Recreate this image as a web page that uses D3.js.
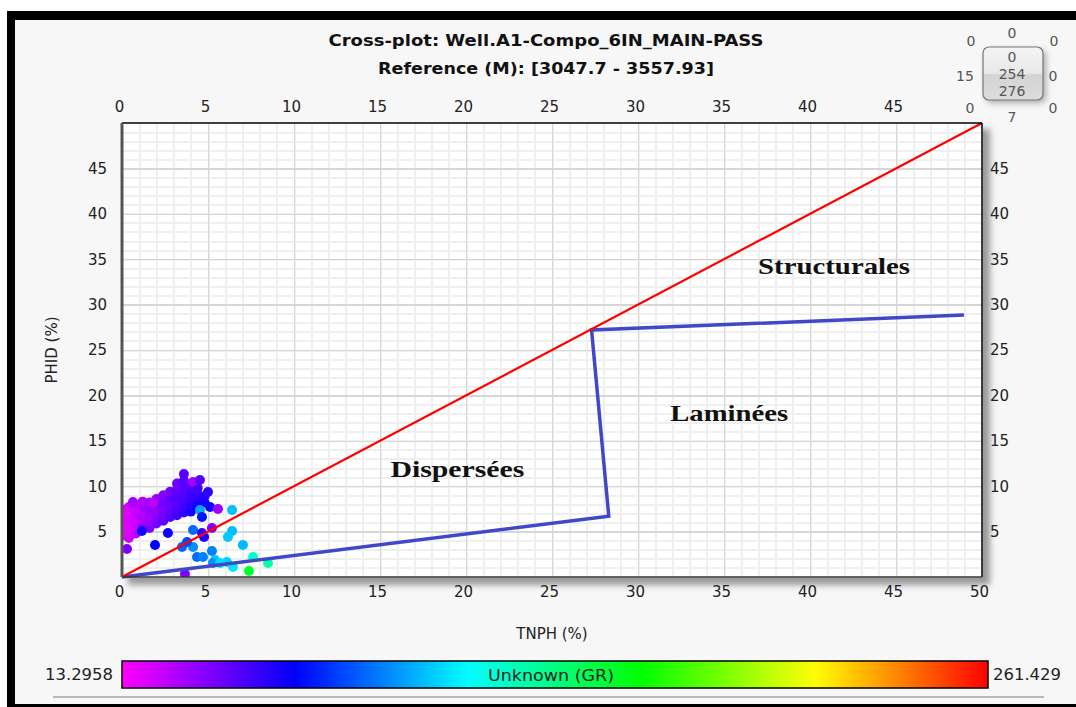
<!DOCTYPE html>
<html>
<head>
<meta charset="utf-8">
<script src="https://cdn.jsdelivr.net/npm/d3@7"></script>
<style>
  body { margin: 0; background: #fff; }
  text { font-family: "DejaVu Sans", Verdana, sans-serif; }
  .tick text { font-size: 15px; fill: #222; }
  .grid line { shape-rendering: crispEdges; }
  .grid path { display: none; }
  text.zone { font-family: "Liberation Serif", "Times New Roman", serif; }
</style>
</head>
<body>
<div id="chart"></div>
<script>
// cross-plot TNPH vs PHID, colour = GR

var titleLines = ["Cross-plot: Well.A1-Compo_6IN_MAIN-PASS", "Reference (M): [3047.7 - 3557.93]"];
var xTicksBottom = [0, 5, 10, 15, 20, 25, 30, 35, 40, 45, 50];
var xTicksTop    = [0, 5, 10, 15, 20, 25, 30, 35, 40, 45];
var yTicks       = [5, 10, 15, 20, 25, 30, 35, 40, 45];
var minorTicks   = d3.range(1, 50);

var grRange  = [13.2958, 261.429];
var grColors = ["#ff00ff", "#0000ff", "#00ffff", "#00ff00", "#ffff00", "#ff0000"];

// limits of the zones
var redLine  = [[0, 0], [50, 50]];
var blueLine = [[0, 0], [28.3, 6.7], [27.3, 27.2], [48.95, 28.85]];
var zoneNames = ["Structurales", "Laminées", "Dispersées"];
var zoneX     = [41.4, 35.3, 19.5];
var zoneY     = [34.3, 18.1, 11.9];

// points
var tnph = [
  0.1, 0.1, 0.1, 0.1, 0.1,
  0.4, 0.4, 0.4, 0.4, 0.4, 0.4,
  0.8, 0.8, 0.8, 0.8, 0.8,
  1.2, 1.2, 1.2, 1.2, 1.2,
  1.6, 1.6, 1.6, 1.6, 1.6,
  2.0, 2.0, 2.0, 2.0, 2.0,
  2.4, 2.4, 2.4, 2.4, 2.4,
  2.8, 2.8, 2.8, 2.8, 2.8,
  3.2, 3.2, 3.2, 3.2, 3.2, 3.2,
  3.6, 3.6, 3.6, 3.6, 3.6, 3.6,
  4.0, 4.0, 4.0, 4.0, 4.0,
  4.4, 4.4, 4.4, 4.4,
  4.8, 4.8,
  3.60, 4.13, 4.53, 5.00, 4.36, 0.64, 1.80, 5.12, 5.58, 6.40,
  4.53, 4.65, 0.29, 1.16, 2.67, 1.92, 0.29, 4.13, 4.65, 5.23,
  6.40, 6.16, 4.77, 7.03, 3.49, 4.13, 3.78, 5.23, 4.36, 4.71,
  5.41, 5.29, 6.10, 6.45, 7.62, 8.49, 7.38, 3.66, 5.70
];
var phid = [
  4.6, 5.3, 6.0, 6.7, 7.4,
  4.3, 5.0, 5.7, 6.4, 7.1, 7.7,
  4.8, 5.5, 6.2, 6.9, 7.6,
  5.6, 6.3, 7.0, 7.7, 8.3,
  5.4, 6.1, 6.8, 7.5, 8.2,
  5.9, 6.6, 7.3, 8.0, 8.6,
  6.2, 6.9, 7.6, 8.3, 9.0,
  6.6, 7.3, 8.0, 8.7, 9.4,
  6.8, 7.5, 8.2, 8.9, 9.6, 10.3,
  7.1, 7.8, 8.5, 9.2, 9.9, 10.6,
  7.2, 7.9, 8.6, 9.3, 10.0,
  7.6, 8.3, 9.0, 9.8,
  8.2, 8.9,
  11.34, 10.46, 10.68, 9.36, 9.58, 8.26, 8.15, 7.71, 7.49, 7.38,
  7.38, 6.61, 6.28, 5.07, 4.85, 3.52, 3.08, 5.18, 4.85, 5.40,
  5.07, 4.41, 4.41, 3.52, 3.30, 3.30, 3.85, 2.86, 2.20, 2.20,
  1.87, 1.54, 1.65, 1.10, 2.20, 1.54, 0.66, 0.33, 1.54
];
var gr = [
  16, 15, 17, 15, 18,
  22, 19, 18, 20, 17, 21,
  28, 24, 22, 25, 23,
  34, 30, 27, 31, 28,
  38, 33, 31, 34, 30,
  40, 36, 34, 37, 33,
  44, 40, 38, 41, 36,
  47, 44, 42, 45, 40,
  50, 48, 45, 47, 44, 42,
  54, 51, 49, 47, 45, 46,
  58, 55, 52, 50, 48,
  60, 57, 54, 51,
  59, 56,
  46, 30, 46, 53, 50, 32, 26, 60, 32, 100,
  95, 67, 20, 60, 60, 63, 38, 84, 53, 38,
  100, 102, 57, 99, 82, 91, 78, 88, 84, 88,
  102, 91, 104, 108, 122, 129, 153, 38, 106
];

var W = 1076, H = 707;
var pLeft = 122, pTop = 123, pRight = 982, pBottom = 577;

var svg = d3.select("#chart").append("svg")
    .attr("width", W)
    .attr("height", H);

var defs = svg.append("defs");
defs.append("filter").attr("id", "shadow")
    .attr("x", "-10%").attr("y", "-10%").attr("width", "130%").attr("height", "130%")
  .append("feGaussianBlur").attr("stdDeviation", 3);

var grad = defs.append("linearGradient").attr("id", "grbar");
grColors.map((c, i) => {
  grad.append("stop")
    .attr("offset", (i / (grColors.length - 1) * 100) + "%")
    .attr("stop-color", c);
});

var boxGrad = defs.append("linearGradient").attr("id", "boxg")
    .attr("x1", 0).attr("y1", 0).attr("x2", 0).attr("y2", 1);
boxGrad.append("stop").attr("offset", "0%").attr("stop-color", "#f4f4f4");
boxGrad.append("stop").attr("offset", "50%").attr("stop-color", "#e8e8e8");
boxGrad.append("stop").attr("offset", "52%").attr("stop-color", "#d4d4d4");
boxGrad.append("stop").attr("offset", "100%").attr("stop-color", "#dcdcdc");

defs.append("clipPath").attr("id", "plotclip")
  .append("rect")
    .attr("x", pLeft).attr("y", pTop)
    .attr("width", pRight - pLeft).attr("height", pBottom - pTop);

// frame
svg.append("rect").attr("x", 15).attr("y", 20).attr("width", W - 15).attr("height", 684)
    .attr("fill", "#f7f7f7");
svg.append("rect").attr("x", 7).attr("y", 11).attr("width", W - 7).attr("height", 9).attr("fill", "#000");
svg.append("rect").attr("x", 7).attr("y", 11).attr("width", 8).attr("height", H - 11).attr("fill", "#000");
svg.append("rect").attr("x", 7).attr("y", 704).attr("width", W - 7).attr("height", 3).attr("fill", "#000");

// title
titleLines.map((t, i) => {
  svg.append("text")
    .attr("x", 546).attr("y", 46 + i * 28)
    .attr("text-anchor", "middle")
    .attr("font-size", "15px")
    .attr("font-weight", "bold")
    .attr("fill", "#111")
    .attr("textLength", i == 0 ? 435 : 336)
    .attr("lengthAdjust", "spacingAndGlyphs")
    .text(t);
});

var x = d3.scaleLinear().domain([0, 50]).range([pLeft, pRight]);
var y = d3.scaleLinear().domain([0, 50]).range([pBottom, pTop]);
var color = d3.scaleLinear()
    .domain(grColors.map((c, i) => grRange[0] + (grRange[1] - grRange[0]) * i / (grColors.length - 1)))
    .range(grColors)
    .clamp(true);

// plot background + shadow
svg.append("rect")
    .attr("x", pLeft + 6).attr("y", pTop + 6)
    .attr("width", pRight - pLeft + 2).attr("height", pBottom - pTop + 2)
    .attr("fill", "#999")
    .attr("filter", "url(#shadow)");
svg.append("rect")
    .attr("x", pLeft).attr("y", pTop)
    .attr("width", pRight - pLeft).attr("height", pBottom - pTop)
    .attr("fill", "#fff");

// grid
var g = svg.append("g");
g.append("g").attr("class", "grid")
    .attr("transform", "translate(0," + pBottom + ")")
    .call(d3.axisBottom(x).tickValues(minorTicks).tickSize(-(pBottom - pTop)).tickFormat(""))
    .selectAll("line").attr("stroke", "#efefef").attr("stroke-width", 2);
g.append("g").attr("class", "grid")
    .attr("transform", "translate(" + pLeft + ",0)")
    .call(d3.axisLeft(y).tickValues(minorTicks).tickSize(-(pRight - pLeft)).tickFormat(""))
    .selectAll("line").attr("stroke", "#efefef").attr("stroke-width", 2);
g.append("g").attr("class", "grid")
    .attr("transform", "translate(0," + pBottom + ")")
    .call(d3.axisBottom(x).tickValues(xTicksBottom).tickSize(-(pBottom - pTop)).tickFormat(""))
    .selectAll("line").attr("stroke", "#d6d6d6").attr("stroke-width", 1.5);
g.append("g").attr("class", "grid")
    .attr("transform", "translate(" + pLeft + ",0)")
    .call(d3.axisLeft(y).tickValues(yTicks.concat([0])).tickSize(-(pRight - pLeft)).tickFormat(""))
    .selectAll("line").attr("stroke", "#d6d6d6").attr("stroke-width", 1.5);

// points
var pts = svg.append("g").attr("clip-path", "url(#plotclip)");
tnph.map((v, i) => {
  pts.append("circle")
    .attr("cx", x(v))
    .attr("cy", y(phid[i]))
    .attr("r", 5)
    .attr("fill", color(gr[i]));
});

// zone limits
var line = d3.line().x(d => x(d[0])).y(d => y(d[1]));
svg.append("path")
    .attr("d", line(blueLine))
    .attr("fill", "none")
    .attr("stroke", "#4048c8")
    .attr("stroke-width", 3.5);
svg.append("path")
    .attr("d", line(redLine))
    .attr("fill", "none")
    .attr("stroke", "#ff0000")
    .attr("stroke-width", 2.2);

zoneNames.map((t, i) => {
  svg.append("text")
    .attr("class", "zone")
    .attr("x", x(zoneX[i])).attr("y", y(zoneY[i]) + 8)
    .attr("text-anchor", "middle")
    .attr("font-weight", "bold")
    .attr("font-size", "23px")
    .attr("fill", "#111")
    .attr("textLength", [152, 118, 134][i])
    .attr("lengthAdjust", "spacingAndGlyphs")
    .text(t);
});

// plot border
svg.append("line").attr("x1", pLeft).attr("x2", pRight).attr("y1", pTop).attr("y2", pTop)
    .attr("stroke", "#000").attr("stroke-width", 1.5);
svg.append("line").attr("x1", pRight).attr("x2", pRight).attr("y1", pTop).attr("y2", pBottom)
    .attr("stroke", "#000").attr("stroke-width", 1.5);
svg.append("line").attr("x1", pLeft).attr("x2", pRight).attr("y1", pBottom).attr("y2", pBottom)
    .attr("stroke", "#333").attr("stroke-width", 1.5);
svg.append("line").attr("x1", pLeft).attr("x2", pLeft).attr("y1", pTop).attr("y2", pBottom)
    .attr("stroke", "#555").attr("stroke-width", 3);

// tick labels
function labels(axis, tr) {
  var a = svg.append("g").attr("transform", tr).call(axis);
  a.select(".domain").remove();
  a.selectAll(".tick line").remove();
  return a;
}
labels(d3.axisBottom(x).tickValues(xTicksBottom).tickSize(0).tickPadding(9), "translate(-3," + pBottom + ")");
labels(d3.axisTop(x).tickValues(xTicksTop).tickSize(0).tickPadding(11), "translate(-3," + pTop + ")");
labels(d3.axisLeft(y).tickValues(yTicks).tickSize(0).tickPadding(15), "translate(" + pLeft + ",0)");
labels(d3.axisRight(y).tickValues(yTicks).tickSize(0).tickPadding(8), "translate(" + pRight + ",0)");

// axis titles
svg.append("text")
    .attr("x", 552).attr("y", 639)
    .attr("text-anchor", "middle")
    .attr("font-size", "15px").attr("fill", "#222")
    .text("TNPH (%)");
svg.append("text")
    .attr("transform", "translate(57,350) rotate(-90)")
    .attr("text-anchor", "middle")
    .attr("font-size", "15px").attr("fill", "#222")
    .text("PHID (%)");

// colour bar
svg.append("rect")
    .attr("x", 122).attr("y", 661)
    .attr("width", 866).attr("height", 27)
    .attr("fill", "url(#grbar)")
    .attr("stroke", "#000").attr("stroke-width", 1.5);
svg.append("text")
    .attr("x", 113).attr("y", 680)
    .attr("text-anchor", "end")
    .attr("font-size", "15px").attr("fill", "#222")
    .attr("textLength", 68).attr("lengthAdjust", "spacingAndGlyphs")
    .text(grRange[0]);
svg.append("text")
    .attr("x", 993).attr("y", 680)
    .attr("font-size", "15px").attr("fill", "#222")
    .attr("textLength", 68).attr("lengthAdjust", "spacingAndGlyphs")
    .text(grRange[1]);
svg.append("text")
    .attr("x", 551).attr("y", 681)
    .attr("text-anchor", "middle")
    .attr("font-size", "15px").attr("fill", "#222")
    .attr("textLength", 126).attr("lengthAdjust", "spacingAndGlyphs")
    .text("Unknown (GR)");
svg.append("line")
    .attr("x1", 53).attr("x2", 1044).attr("y1", 697).attr("y2", 697)
    .attr("stroke", "#b8b8b8").attr("stroke-width", 2);

// little navigator box top right
var nav = svg.append("g").attr("font-size", "14px").attr("fill", "#555").attr("text-anchor", "middle");
nav.append("rect")
    .attr("x", 986).attr("y", 50).attr("width", 60).attr("height", 53).attr("rx", 6)
    .attr("fill", "#aaa").attr("filter", "url(#shadow)");
nav.append("rect")
    .attr("x", 983).attr("y", 47).attr("width", 60).attr("height", 53).attr("rx", 6)
    .attr("fill", "url(#boxg)").attr("stroke", "#777").attr("stroke-width", 1.2);
var navText = [
  [1012, 38, "0"], [971, 46, "0"], [1054, 46, "0"],
  [1012, 62, "0"], [1012, 79, "254"], [1012, 96, "276"],
  [965, 81, "15"], [1053, 81, "0"],
  [970, 113, "0"], [1012, 122, "7"], [1053, 113, "0"]
];
navText.map(d => {
  nav.append("text").attr("x", d[0]).attr("y", d[1]).text(d[2]);
});
</script>
</body>
</html>
